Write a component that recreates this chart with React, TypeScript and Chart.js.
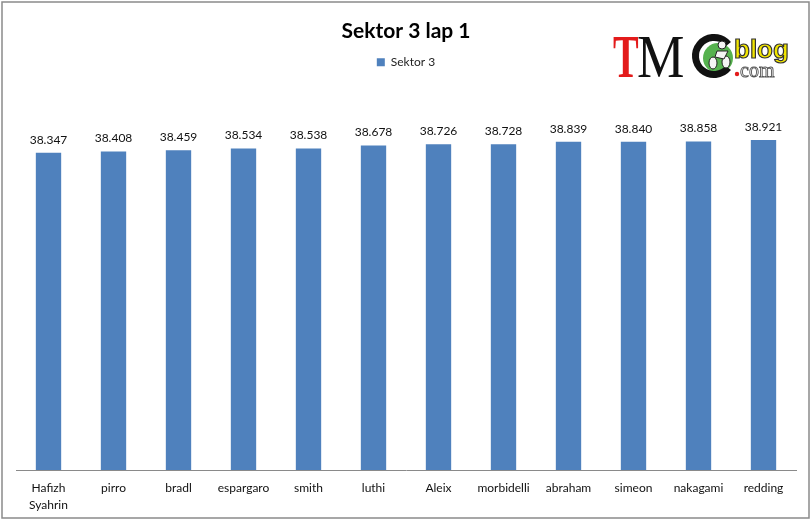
import React, { useEffect, useRef } from "react";
import { Chart, registerables } from "chart.js";

Chart.register(...registerables);

const chartTitle = "Sektor 3 lap 1";
const seriesName = "Sektor 3";
const riders: (string | string[])[] = [
  ["Hafizh", "Syahrin"],
  "pirro",
  "bradl",
  "espargaro",
  "smith",
  "luthi",
  "Aleix",
  "morbidelli",
  "abraham",
  "simeon",
  "nakagami",
  "redding",
];
const sectorTimes = [38.347, 38.408, 38.459, 38.534, 38.538, 38.678, 38.726, 38.728, 38.839, 38.84, 38.858, 38.921];
const axisMin = 24;
const axisMax = 40;

const FONT = "Lato, 'Noto Sans', sans-serif";

const dataLabelPlugin = {
  id: "dataLabels",
  afterDatasetsDraw(chart: any) {
    const ctx = chart.ctx as CanvasRenderingContext2D;
    const meta = chart.getDatasetMeta(0);
    ctx.save();
    ctx.font = `12px ${FONT}`;
    ctx.fillStyle = "#111";
    ctx.textAlign = "center";
    ctx.textBaseline = "middle";
    meta.data.forEach((el: any, i: number) => {
      ctx.fillText(sectorTimes[i].toFixed(3), el.x, el.y - 13);
    });
    ctx.restore();
  },
};

const frameAndLogoPlugin = {
  id: "frameAndLogo",
  afterDraw(chart: any) {
    const ctx = chart.ctx as CanvasRenderingContext2D;
    ctx.save();
    // outer frame
    ctx.strokeStyle = "#8a8a8a";
    ctx.lineWidth = 1.5;
    ctx.strokeRect(2, 2, 807, 516);

    // logo
    ctx.textBaseline = "alphabetic";
    ctx.textAlign = "left";
    // T
    ctx.save();
    ctx.translate(613, 77);
    ctx.scale(0.62, 1);
    ctx.font = "bold 62px 'Liberation Serif', serif";
    ctx.fillStyle = "#e31b1b";
    ctx.fillText("T", 0, 0);
    ctx.restore();
    // M
    ctx.save();
    ctx.translate(637, 77);
    ctx.scale(0.86, 1);
    ctx.font = "62px 'Liberation Serif', serif";
    ctx.fillStyle = "#111";
    ctx.fillText("M", 0, 0);
    ctx.restore();
    // green circle
    ctx.beginPath();
    ctx.arc(718, 58, 15, 0, Math.PI * 2);
    ctx.fillStyle = "#56b24f";
    ctx.fill();
    // C as a thick arc
    ctx.beginPath();
    ctx.arc(714, 56, 18.5, Math.PI * 0.22, Math.PI * 1.78);
    ctx.strokeStyle = "#111";
    ctx.lineWidth = 7;
    ctx.stroke();
    // rider
    ctx.fillStyle = "#f4f4f4";
    ctx.strokeStyle = "#222";
    ctx.lineWidth = 1;
    ctx.beginPath();
    ctx.arc(722, 45, 4, 0, Math.PI * 2);
    ctx.fill();
    ctx.stroke();
    ctx.beginPath();
    ctx.ellipse(713, 63, 4, 6, 0, 0, Math.PI * 2);
    ctx.fill();
    ctx.stroke();
    ctx.beginPath();
    ctx.ellipse(726, 62, 4, 6, 0, 0, Math.PI * 2);
    ctx.fill();
    ctx.stroke();
    ctx.beginPath();
    ctx.moveTo(717, 51);
    ctx.lineTo(728, 51);
    ctx.lineTo(724, 59);
    ctx.lineTo(715, 57);
    ctx.closePath();
    ctx.fill();
    ctx.stroke();
    // blog
    ctx.font = "bold 26px 'Liberation Sans', Arial, sans-serif";
    ctx.lineWidth = 1.2;
    ctx.strokeStyle = "#333";
    ctx.fillStyle = "#f2e600";
    ctx.fillText("blog", 734, 58);
    ctx.strokeText("blog", 734, 58);
    // .com
    ctx.fillStyle = "#e31b1b";
    ctx.beginPath();
    ctx.arc(737, 74, 2.2, 0, Math.PI * 2);
    ctx.fill();
    ctx.font = "20px 'Liberation Serif', serif";
    ctx.fillStyle = "#fff";
    ctx.strokeStyle = "#555";
    ctx.lineWidth = 0.9;
    ctx.fillText("com", 740, 77);
    ctx.strokeText("com", 740, 77);
    ctx.restore();
  },
};

export default function App() {
  const canvasRef = useRef<HTMLCanvasElement | null>(null);

  useEffect(() => {
    if (!canvasRef.current) return;
    const chart = new Chart(canvasRef.current, {
      type: "bar",
      data: {
        labels: riders,
        datasets: [
          {
            label: seriesName,
            data: sectorTimes,
            backgroundColor: "#4f81bd",
            borderWidth: 0,
            categoryPercentage: 1,
            barPercentage: 0.39,
            xAxisID: "x",
          },
        ],
      },
      options: {
        responsive: false,
        animation: false,
        layout: { padding: { left: 16, right: 16, top: 0, bottom: 0 } },
        plugins: {
          title: {
            display: true,
            text: chartTitle,
            color: "#000",
            font: { family: FONT, size: 21, weight: "bold", lineHeight: 1.2 },
            padding: { top: 19, bottom: 3 },
          },
          legend: {
            display: true,
            position: "top",
            labels: {
              color: "#222",
              font: { family: FONT, size: 12 },
              boxWidth: 8,
              boxHeight: 8,
              padding: 9,
            },
          },
          tooltip: { enabled: false },
        },
        scales: {
          x: {
            type: "category",
            position: "bottom",
            grid: { display: false, drawTicks: false },
            border: { display: true, color: "#8a8a8a", width: 1 },
            ticks: {
              color: "#111",
              font: { family: FONT, size: 12, lineHeight: 1.4 },
              padding: 10,
              maxRotation: 0,
              autoSkip: false,
            },
            afterFit: (scale: any) => {
              scale.height = 52;
            },
          },
          spacer: {
            type: "category",
            position: "top",
            display: true,
            grid: { display: false, drawTicks: false },
            border: { display: false },
            ticks: { display: false },
            afterFit: (scale: any) => {
              scale.height = 38;
            },
          },
          y: {
            type: "linear",
            display: false,
            min: axisMin,
            max: axisMax,
          },
        },
      },
      plugins: [dataLabelPlugin, frameAndLogoPlugin],
    } as any);
    return () => chart.destroy();
  }, []);

  return (
    <div style={{ position: "absolute", left: 0, top: 0, width: 812, height: 522, background: "#fff" }}>
      <canvas ref={canvasRef} width={812} height={522} style={{ display: "block" }} />
    </div>
  );
}
